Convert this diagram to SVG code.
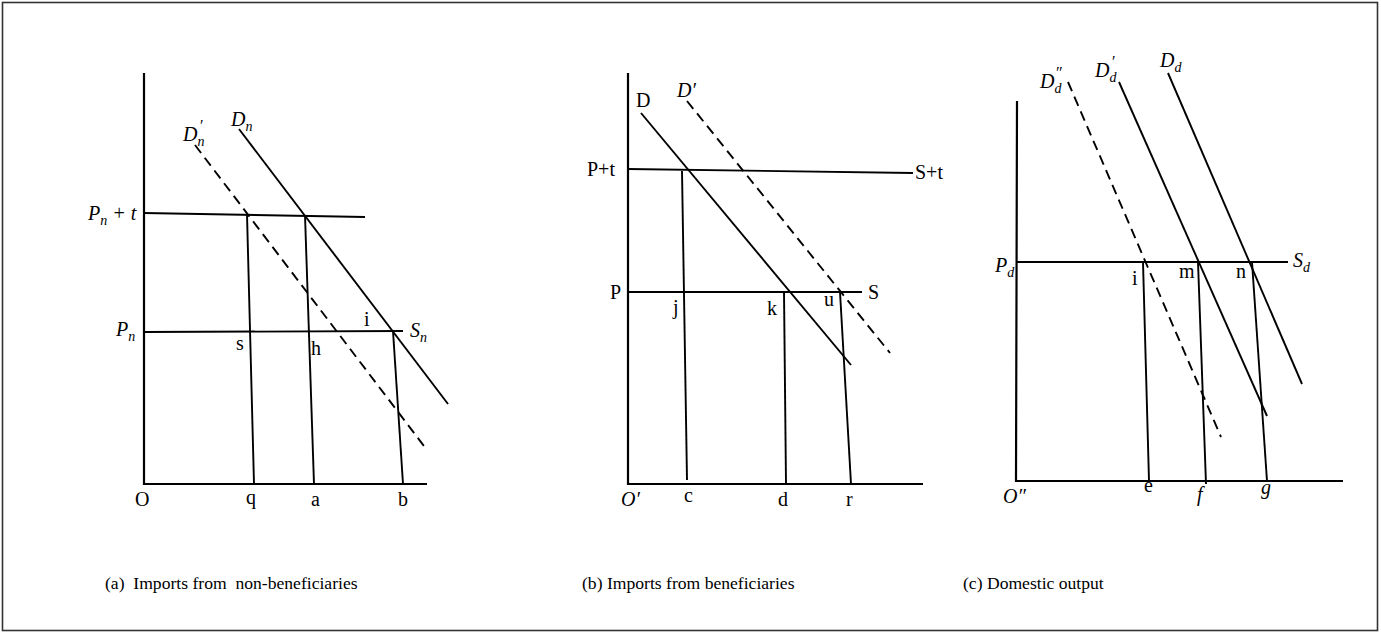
<svg xmlns="http://www.w3.org/2000/svg" width="1381" height="634" viewBox="0 0 1381 634">
<style>
.ln{stroke:#000;stroke-width:1.9;fill:none;stroke-linecap:butt}
.ax{stroke:#000;stroke-width:2.2;fill:none}
.dash{stroke:#000;stroke-width:1.9;fill:none;stroke-dasharray:10 6}
.t{font-family:"Liberation Serif",serif;font-size:20px;fill:#000}
.m{font-family:"Liberation Serif",serif;font-style:italic;font-size:20px;fill:#000}
.sub{font-size:14px}
.pr{font-size:16px}
.cap{font-family:"Liberation Serif",serif;font-size:17.6px;fill:#000}
</style>
<rect x="2.5" y="2.5" width="1375" height="628" fill="#fff" stroke="#333" stroke-width="1.6"/>

<g id="panel-a">
  <path class="ax" d="M144,73 V484 H427"/>
  <g id="lines-a">
    <line class="ln" x1="144" y1="213" x2="365" y2="217"/>
    <line class="ln" x1="144" y1="332" x2="403" y2="331"/>
    <line class="ln" x1="239" y1="129" x2="448" y2="404"/>
    <line class="dash" x1="195" y1="145" x2="427" y2="450"/>
    <line class="ln" x1="247" y1="214" x2="254" y2="484"/>
    <line class="ln" x1="305" y1="215" x2="314" y2="484"/>
    <line class="ln" x1="393" y1="331" x2="403" y2="484"/>
  </g>
  <text class="m" x="88" y="220">P<tspan class="sub" dy="5">n</tspan><tspan dy="-5"> + t</tspan></text>
  <text class="m" x="116" y="336">P<tspan class="sub" dy="5">n</tspan></text>
  <text class="m" x="231" y="126">D<tspan class="sub" dy="5">n</tspan></text>
  <text class="m" x="183" y="141">D<tspan class="sub" dy="5">n</tspan></text>
  <text class="m pr" x="199" y="131">′</text>
  <text class="m" x="410" y="337">S<tspan class="sub" dy="5">n</tspan></text>
  <text class="t" x="364" y="326">i</text>
  <text class="t" x="236" y="350">s</text>
  <text class="t" x="311" y="355">h</text>
  <text class="t" x="135" y="506">O</text>
  <text class="t" x="246" y="504">q</text>
  <text class="t" x="311" y="506">a</text>
  <text class="t" x="398" y="506">b</text>
</g>

<g id="panel-b">
  <path class="ax" d="M628,73 V484 H923"/>
  <g id="lines-b">
    <line class="ln" x1="628" y1="169" x2="913" y2="173"/>
    <line class="ln" x1="628" y1="292" x2="862" y2="292"/>
    <line class="ln" x1="641" y1="113" x2="851" y2="365"/>
    <line class="dash" x1="687" y1="101" x2="890" y2="353"/>
    <line class="ln" x1="682" y1="171" x2="687" y2="480"/>
    <line class="ln" x1="784" y1="292" x2="786" y2="484"/>
    <line class="ln" x1="840" y1="292" x2="851" y2="484"/>
  </g>
  <text class="t" x="636" y="107">D</text>
  <text class="m" x="677" y="97">D′</text>
  <text class="t" x="587" y="176">P+t</text>
  <text class="t" x="915" y="179">S+t</text>
  <text class="t" x="610" y="299">P</text>
  <text class="t" x="868" y="299">S</text>
  <text class="t" x="673" y="314">j</text>
  <text class="t" x="767" y="315">k</text>
  <text class="t" x="824" y="306">u</text>
  <text class="m" x="621" y="506">O′</text>
  <text class="t" x="684" y="502">c</text>
  <text class="t" x="778" y="506">d</text>
  <text class="t" x="846" y="506">r</text>
</g>

<g id="panel-c">
  <path class="ax" d="M1017,101 L1016,481 H1343"/>
  <g id="lines-c">
    <line class="ln" x1="1017" y1="262" x2="1288" y2="262"/>
    <line class="ln" x1="1168" y1="73" x2="1302" y2="384"/>
    <line class="ln" x1="1119" y1="82" x2="1267" y2="416"/>
    <line class="dash" x1="1068" y1="82" x2="1221" y2="437"/>
    <line class="ln" x1="1143" y1="262" x2="1149" y2="481"/>
    <line class="ln" x1="1198" y1="262" x2="1206" y2="484"/>
    <line class="ln" x1="1252" y1="262" x2="1267" y2="481"/>
  </g>
  <text class="m" x="1040" y="88">D<tspan class="sub" dy="5">d</tspan></text>
  <text class="m pr" x="1055" y="78">″</text>
  <text class="m" x="1095" y="77">D<tspan class="sub" dy="5">d</tspan></text>
  <text class="m pr" x="1111" y="67">′</text>
  <text class="m" x="1160" y="67">D<tspan class="sub" dy="5">d</tspan></text>
  <text class="m" x="995" y="272">P<tspan class="sub" dy="5">d</tspan></text>
  <text class="m" x="1293" y="267">S<tspan class="sub" dy="5">d</tspan></text>
  <text class="t" x="1132" y="285">i</text>
  <text class="t" x="1179" y="278">m</text>
  <text class="t" x="1236" y="278">n</text>
  <text class="m" x="1003" y="503">O″</text>
  <text class="t" x="1144" y="492">e</text>
  <text class="m" x="1197" y="501">f</text>
  <text class="m" x="1261" y="494">g</text>
</g>

<g id="captions">
  <text class="cap" x="105" y="589" xml:space="preserve">(a)  Imports from  non-beneficiaries</text>
  <text class="cap" x="582" y="589">(b) Imports from beneficiaries</text>
  <text class="cap" x="963" y="589">(c) Domestic output</text>
</g>
</svg>
